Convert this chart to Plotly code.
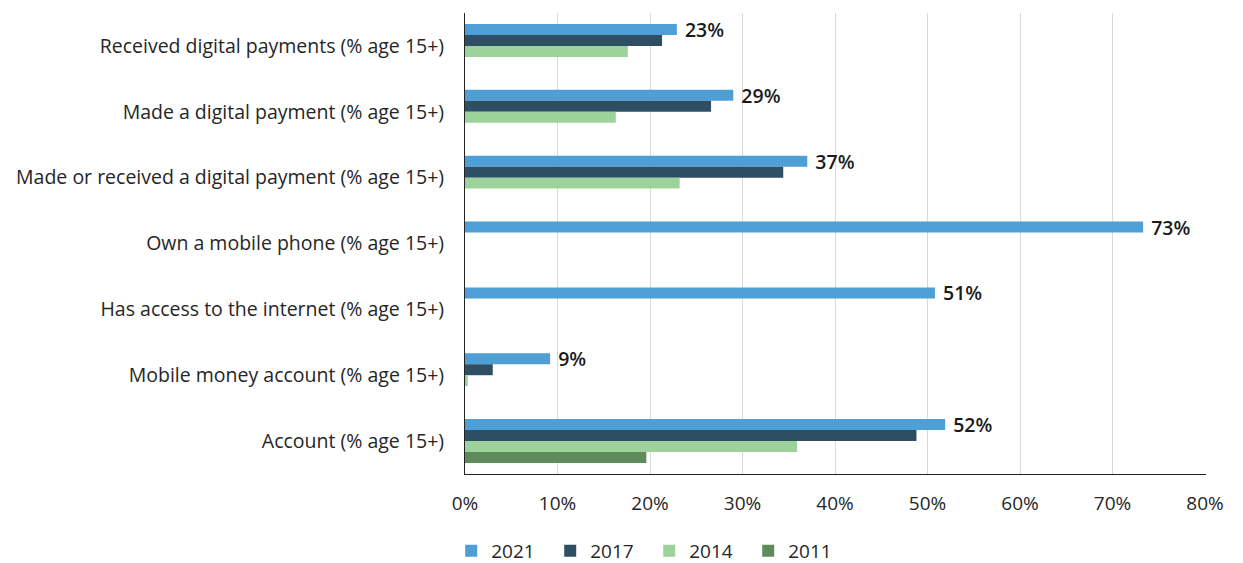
import plotly.graph_objects as go

categories = [
    "Received digital payments (% age 15+)",
    "Made a digital payment (% age 15+)",
    "Made or received a digital payment (% age 15+)",
    "Own a mobile phone (% age 15+)",
    "Has access to the internet (% age 15+)",
    "Mobile money account (% age 15+)",
    "Account (% age 15+)",
]

years = ["2021", "2017", "2014", "2011"]
values_2021 = [0.229, 0.290, 0.370, 0.733, 0.508, 0.092, 0.519]
values_2017 = [0.213, 0.266, 0.344, None, None, 0.030, 0.488]
values_2014 = [0.176, 0.163, 0.232, None, None, 0.003, 0.359]
values_2011 = [None, None, None, None, None, None, 0.196]

series = [values_2021, values_2017, values_2014, values_2011]
colors = ["#4e9fd6", "#2d4e63", "#9dd39a", "#5e8a5c"]

FONT = "Open Sans"
TEXT = "#262626"

fig = go.Figure()
for i, (year, vals, col) in enumerate(zip(years, series, colors)):
    kw = {}
    if i == 0:
        kw = dict(
            texttemplate="\u00a0%{x:.0%}",
            textposition="outside",
            constraintext="none",
            cliponaxis=False,
            textfont=dict(family=FONT, size=19.5, color="#1a1a1a", weight=600),
        )
    fig.add_trace(go.Bar(
        y=categories, x=vals, name=year, orientation="h",
        marker=dict(color=col, line=dict(width=0)),
        **kw,
    ))

fig.update_layout(
    width=1243, height=563,
    barmode="group", bargap=1/3, bargroupgap=0,
    plot_bgcolor="white", paper_bgcolor="white",
    margin=dict(l=465, r=37, t=13, b=89, autoexpand=False),
    font=dict(family=FONT, size=19, color=TEXT),
    showlegend=True,
    legend=dict(
        orientation="h", xref="container", yref="container",
        x=0.363, y=0.0215, xanchor="left", yanchor="middle",
        entrywidth=54, entrywidthmode="pixels",
        font=dict(family=FONT, size=19, color=TEXT),
        itemclick=False,
    ),
)

fig.update_xaxes(
    range=[0, 0.801], tickformat=".0%", dtick=0.1, tick0=0,
    showgrid=True, gridcolor="#d9d9d9", gridwidth=1,
    showline=True, linecolor="#222222", linewidth=1,
    zeroline=False, ticks="", ticklabelstandoff=12,
    tickfont=dict(family=FONT, size=19, color=TEXT),
)
fig.update_yaxes(
    autorange="reversed", showgrid=False,
    showline=True, linecolor="#222222", linewidth=1,
    ticks="", ticklabelstandoff=16,
    tickfont=dict(family=FONT, size=19.5, color=TEXT),
)

fig.write_html("out.html")
